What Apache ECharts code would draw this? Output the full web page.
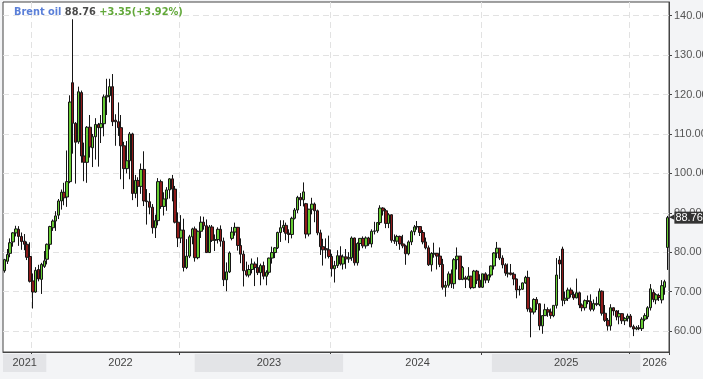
<!DOCTYPE html>
<html><head><meta charset="utf-8">
<script src="https://cdn.jsdelivr.net/npm/echarts@6/dist/echarts.min.js"></script>
<style>html,body{margin:0;padding:0;background:#f3f4f6;}#c{width:703px;height:379px;}</style>
</head><body><div id="c"></div>
<script>
// ---- data ----
const seriesName = 'Brent oil';
const firstWeek = '2021-09-20';           // Monday of first weekly candle
const lastPrice = 88.76;
const priceChange = 3.35;
const priceChangePct = 3.92;
// weekly candles: [open, close, low, high]
const ohlc = [
[75.3,78.1,74.8,78.3],[77.7,79.4,77.0,80.8],[79.7,82.4,78.7,83.5],[82.6,84.9,81.4,85.1],[84.9,85.9,84.0,86.7],
[85.8,84.0,81.6,86.6],[84.0,82.7,80.6,85.0],[82.8,82.0,80.5,84.6],[82.0,78.7,78.0,82.7],[78.9,72.6,72.3,82.5],
[72.7,69.9,65.7,74.6],[69.9,75.4,69.7,76.2],[75.6,73.2,72.6,76.8],[73.1,76.9,69.4,77.3],[76.4,77.8,76.0,80.3],
[78.2,82.0,76.9,82.2],[82.0,86.5,80.7,86.7],[86.2,87.9,85.4,88.3],[87.9,89.2,85.4,90.4],[89.4,93.0,88.4,93.5],
[93.0,95.2,90.8,95.9],[95.2,93.8,91.9,97.6],[94.0,97.9,91.5,105.8],[97.9,118.1,97.5,119.8],[123.0,112.7,105.0,139.1],
[112.7,107.9,97.4,113.0],[108.0,120.7,107.5,122.0],[120.5,104.4,102.7,121.0],[104.4,102.8,98.0,107.8],[102.8,111.7,97.6,112.0],
[111.7,106.7,104.0,114.8],[106.5,109.3,101.6,110.0],[109.3,112.4,103.5,114.0],[112.4,111.6,101.7,112.8],[111.6,112.6,107.7,114.8],
[112.6,119.4,109.4,120.0],[119.4,119.7,114.8,124.0],[119.7,122.0,118.0,124.0],[122.0,113.1,112.0,125.2],[113.5,113.1,107.0,115.0],
[113.1,111.6,109.5,118.0],[111.6,107.0,98.5,114.8],[107.0,101.2,96.0,108.0],[101.2,103.2,100.0,108.2],[103.2,110.0,98.5,110.5],
[110.0,94.9,93.2,110.3],[94.9,98.2,93.7,99.6],[98.2,96.7,91.5,99.0],[96.7,101.0,94.8,102.5],[101.0,93.0,91.7,105.6],
[93.0,92.8,87.0,96.0],[92.8,91.4,89.6,95.0],[91.4,86.2,84.7,92.2],[86.2,88.0,83.6,89.5],[88.0,97.9,86.8,98.8],
[97.9,91.6,91.0,98.4],[91.6,93.5,89.3,95.2],[93.5,95.8,90.5,96.5],[95.8,98.6,93.6,98.8],[98.6,96.0,92.9,99.6],
[96.0,87.6,87.3,96.8],[87.6,83.6,81.3,90.1],[83.6,85.6,82.3,89.4],[85.6,76.1,75.1,88.5],[76.1,79.0,75.7,83.3],
[79.0,83.9,78.5,84.4],[83.9,85.9,82.0,86.2],
[85.9,78.6,77.6,86.5],[78.6,85.3,78.2,85.5],[85.3,87.6,83.6,89.1],[87.6,86.7,85.7,89.0],[86.7,79.9,79.8,88.3],
[79.9,86.4,79.8,86.9],[86.4,83.0,82.6,86.9],[83.0,83.2,80.3,84.5],[83.2,85.8,82.2,86.3],[85.8,82.8,81.4,86.8],
[82.8,73.0,71.4,83.7],[73.0,75.0,70.1,77.4],[75.0,79.8,74.7,80.2],[83.5,85.1,83.0,86.4],[85.1,86.3,84.2,87.5],
[86.3,81.7,80.4,86.4],[81.7,79.5,77.2,83.5],[79.5,75.3,71.3,80.4],[75.3,74.2,73.8,77.6],[74.2,75.6,73.6,76.8],
[75.6,77.0,74.6,78.4],[77.0,76.1,71.4,77.6],[76.1,74.8,74.2,78.7],[74.8,76.6,71.6,77.1],[76.6,73.9,73.1,77.6],
[73.9,74.9,71.6,75.4],[74.9,78.5,74.3,78.6],[78.5,79.9,77.1,81.4],[79.9,81.1,78.5,81.3],[81.1,85.0,80.8,85.2],
[85.0,86.2,82.6,88.1],[86.2,86.8,85.1,88.1],[86.8,84.8,83.0,87.5],[84.8,84.5,82.3,85.8],[84.5,88.6,83.5,89.0],
[88.6,90.7,88.3,91.2],[90.7,93.9,89.9,94.3],[93.9,93.3,91.7,95.0],[93.3,95.3,91.6,97.7],[92.3,84.6,83.5,92.5],
[84.6,90.9,84.0,91.0],[90.9,92.2,89.6,93.8],[92.2,90.5,87.6,92.6],[90.5,84.9,84.3,90.8],[84.9,81.4,79.3,85.7],
[81.4,80.6,76.6,83.4],[80.9,80.6,78.4,83.5],[80.6,78.9,78.4,84.2],[78.9,75.8,73.8,79.6],[75.8,76.6,72.3,77.8],
[76.6,79.1,76.0,80.5],[79.1,77.0,76.6,81.5],
[77.0,78.8,75.6,79.4],[78.8,78.3,75.8,80.8],[78.3,78.6,77.3,80.0],[78.6,83.6,77.8,84.0],[83.6,77.3,76.6,83.7],
[77.3,82.2,76.6,82.5],[82.2,83.5,80.4,83.6],[83.5,81.6,81.0,84.0],[81.6,83.6,80.9,84.0],[83.6,82.1,81.6,83.9],
[82.1,85.3,81.2,85.8],[85.3,85.4,84.5,87.7],[85.4,87.5,84.9,87.6],[87.5,91.2,86.9,91.9],[91.2,90.5,89.3,91.4],
[90.5,87.3,86.1,91.0],[87.3,89.5,86.1,89.9],[89.5,83.0,82.4,89.6],[83.0,82.8,82.1,84.5],[82.8,84.0,81.6,84.4],
[84.0,82.1,80.6,84.2],[82.1,81.6,81.0,84.4],[81.6,79.6,76.8,81.9],[79.6,82.6,79.2,83.0],[82.6,85.2,81.8,85.6],
[85.2,86.4,84.3,86.9],[86.4,86.5,85.7,87.9],[86.5,85.0,84.1,86.6],[85.0,82.6,82.0,85.6],[82.6,81.1,80.7,83.7],
[81.1,76.8,76.5,81.7],[76.8,79.7,75.1,80.0],[79.5,79.7,78.6,82.4],[79.7,79.0,75.6,79.8],[79.0,76.9,76.2,81.2],
[76.9,71.1,70.5,78.3],[71.1,71.6,68.7,72.7],[71.6,74.5,71.0,75.1],[74.5,72.0,70.9,75.6],[72.0,78.1,70.7,78.5],
[78.1,79.0,75.6,81.2],[79.0,73.1,72.9,79.0],[73.1,76.1,72.9,76.5],[73.5,73.1,70.9,74.0],[73.1,73.9,72.8,76.2],
[73.9,71.0,70.6,74.0],[71.0,75.2,70.8,75.5],[75.2,72.9,71.9,75.5],[72.9,71.1,70.9,74.4],[71.1,74.5,70.9,74.5],
[74.5,72.9,72.1,74.9],[72.9,74.2,72.2,74.3],[74.2,76.5,73.6,76.6],
[76.5,79.8,75.6,80.0],[79.8,81.0,78.5,82.6],[81.0,78.5,78.0,81.0],[78.5,76.8,75.9,79.2],[76.8,74.7,74.0,77.2],
[74.5,74.7,73.6,77.1],[74.7,74.4,74.1,77.0],[74.4,73.2,71.6,74.9],[73.2,70.4,68.3,73.3],[70.4,70.6,69.0,71.5],
[70.6,72.2,70.4,72.3],[72.2,73.6,72.0,74.0],[73.6,65.6,64.9,75.3],[65.6,64.8,58.4,66.0],[64.8,68.0,64.2,68.3],
[68.0,66.9,65.3,68.6],[66.9,61.3,60.2,67.0],[61.3,63.9,59.3,64.0],[63.9,65.4,63.8,66.9],[65.4,64.8,63.6,66.0],
[64.8,63.9,63.1,65.7],[63.9,66.5,63.5,66.5],[66.5,74.2,65.7,78.5],[78.0,77.0,73.2,79.0],[80.8,67.8,66.3,81.4],
[67.8,68.3,66.8,70.0],[68.3,70.4,67.6,71.0],[70.4,69.3,68.5,71.0],[69.3,68.4,67.9,70.0],[68.4,69.7,68.3,73.3],
[69.7,66.6,65.8,70.0],[66.6,65.9,65.0,67.0],[65.9,67.7,65.2,68.0],[67.7,67.5,66.8,69.0],[67.5,65.5,65.0,69.3],
[65.5,67.0,65.0,68.0],[67.0,66.7,66.3,68.7],[66.7,70.1,66.3,70.8],[70.1,64.5,63.9,70.3],[64.5,62.7,62.3,66.6],
[62.7,61.3,60.1,63.3],[61.3,65.9,60.1,66.8],[65.9,65.1,63.9,66.0],[65.1,63.6,62.7,65.3],[63.6,64.4,61.7,65.3],
[64.4,62.6,61.8,64.5],[62.6,63.2,61.5,63.5],[63.2,63.8,62.4,64.4],[63.8,61.1,60.9,64.3],[61.1,60.5,58.7,61.6],
[60.5,60.8,60.2,61.3],[60.8,60.6,60.2,61.5],
[60.6,63.0,60.0,63.5],[63.0,63.9,62.5,64.5],[63.6,65.9,63.0,66.3],[65.9,70.7,65.2,71.9],[69.8,68.0,67.3,70.5],
[67.9,69.2,66.8,69.6],[69.0,68.5,67.6,69.5],[67.9,71.5,67.0,72.9],[71.1,72.5,69.2,73.0],[81.2,88.76,75.5,89.2]
];
const yTicks = [60, 70, 80, 90, 100, 110, 120, 130, 140];
const yearLabels = ['2021', '2022', '2023', '2024', '2025', '2026'];
const gridDates = ['2021-11-29', '2022-11-28', '2023-12-04', '2024-12-09', '2025-12-08'];

// ---- derived ----
const DAY = 86400000;
const t0 = Date.parse(firstWeek + 'T00:00:00Z');
const weeks = ohlc.map((_, i) => new Date(t0 + i * 7 * DAY).toISOString().slice(0, 10));
const nW = weeks.length;
const bandData = yearLabels.map((y, k) => {
  const s = Math.max(-0.5, (Date.UTC(+y, 0, 1) - t0) / (7 * DAY));
  const e = Math.min(nW - 0.5, (Date.UTC(+y + 1, 0, 1) - t0) / (7 * DAY));
  return [{ name: y, xAxis: s, itemStyle: { color: k % 2 === 0 ? '#e3e4e7' : 'rgba(0,0,0,0)' } }, { xAxis: e }];
});
const onGrid = (idx, val) => gridDates.indexOf(val) >= 0;
const FONT = '"Liberation Sans", Arial, sans-serif';
const TFONT = '"DejaVu Sans", Verdana, sans-serif';

const chart = echarts.init(document.getElementById('c'), null, { renderer: 'canvas' });
chart.setOption({
  animation: false,
  backgroundColor: '#f3f4f6',
  title: {
    left: 14, top: 7, padding: 0,
    text: '{a|' + seriesName + '} {b|' + lastPrice.toFixed(2) + '} {c|+' + priceChange.toFixed(2) + '(+' + priceChangePct.toFixed(2) + '%)}',
    textStyle: {
      fontSize: 9.8, fontFamily: TFONT, fontWeight: 'bold',
      rich: {
        a: { color: '#5a7fd8', fontWeight: 'bold', fontSize: 9.8, fontFamily: TFONT },
        b: { color: '#4a4a4a', fontWeight: 'bold', fontSize: 9.8, fontFamily: TFONT },
        c: { color: '#62a83a', fontWeight: 'bold', fontSize: 9.8, fontFamily: TFONT }
      }
    }
  },
  grid: [
    { left: 3, right: 34, top: 2, bottom: 27, show: true, backgroundColor: '#ffffff', borderColor: '#444', borderWidth: 1, containLabel: false, outerBoundsMode: 'none' },
    { left: 3, right: 34, top: 354, height: 18, containLabel: false, outerBoundsMode: 'none' }
  ],
  xAxis: [
    {
      type: 'category', data: weeks, boundaryGap: true, gridIndex: 0,
      axisLine: { lineStyle: { color: '#444', width: 1 } },
      axisTick: { show: true, interval: onGrid, length: 3, lineStyle: { color: '#444' } },
      axisLabel: { show: false },
      splitLine: { show: true, interval: onGrid, lineStyle: { color: '#e2e2e2', type: [6, 4] } }
    },
    { type: 'value', gridIndex: 1, min: -0.5, max: nW - 0.5, show: false }
  ],
  yAxis: [
    {
      type: 'value', position: 'right', gridIndex: 0, min: 54.67, max: 143.48, scale: true,
      axisLine: { show: true, lineStyle: { color: '#444' } },
      axisTick: { show: true, length: 3, customValues: yTicks, lineStyle: { color: '#444' } },
      axisLabel: { customValues: yTicks, formatter: v => v.toFixed(2), color: '#555', fontSize: 11, margin: 5, fontFamily: FONT },
      splitLine: { show: true, lineStyle: { color: '#e2e2e2', type: [6, 4] } }
    },
    { type: 'value', gridIndex: 1, min: 0, max: 1, show: false }
  ],
  series: [
    {
      type: 'candlestick', name: seriesName, xAxisIndex: 0, yAxisIndex: 0, clip: false,
      data: ohlc, barWidth: 3,
      itemStyle: { color: '#66cc33', color0: '#8e1a1a', borderColor: '#151515', borderColor0: '#151515', borderWidth: 1 },
      markLine: {
        silent: true, symbol: ['none', 'none'], z: 10,
        lineStyle: { color: 'rgba(0,0,0,0)', width: 1, type: 'solid' },
        label: {
          show: true, position: 'end', distance: 0, color: '#fff',
          formatter: '{a|◀}{b|' + lastPrice.toFixed(2) + '}',
          rich: {
            a: { color: '#333', fontSize: 7, fontFamily: 'DejaVu Sans' },
            b: { color: '#fff', backgroundColor: '#333', fontSize: 11, fontFamily: FONT, padding: [1, 1, 0, 1] }
          }
        },
        data: [{ yAxis: lastPrice }]
      }
    },
    {
      type: 'scatter', xAxisIndex: 1, yAxisIndex: 1, symbolSize: 0, data: [[0, 0.5]], silent: true,
      markArea: {
        silent: true,
        label: { show: true, position: 'inside', color: '#444', fontSize: 11, fontFamily: FONT },
        data: bandData
      }
    }
  ]
});
</script></body></html>
